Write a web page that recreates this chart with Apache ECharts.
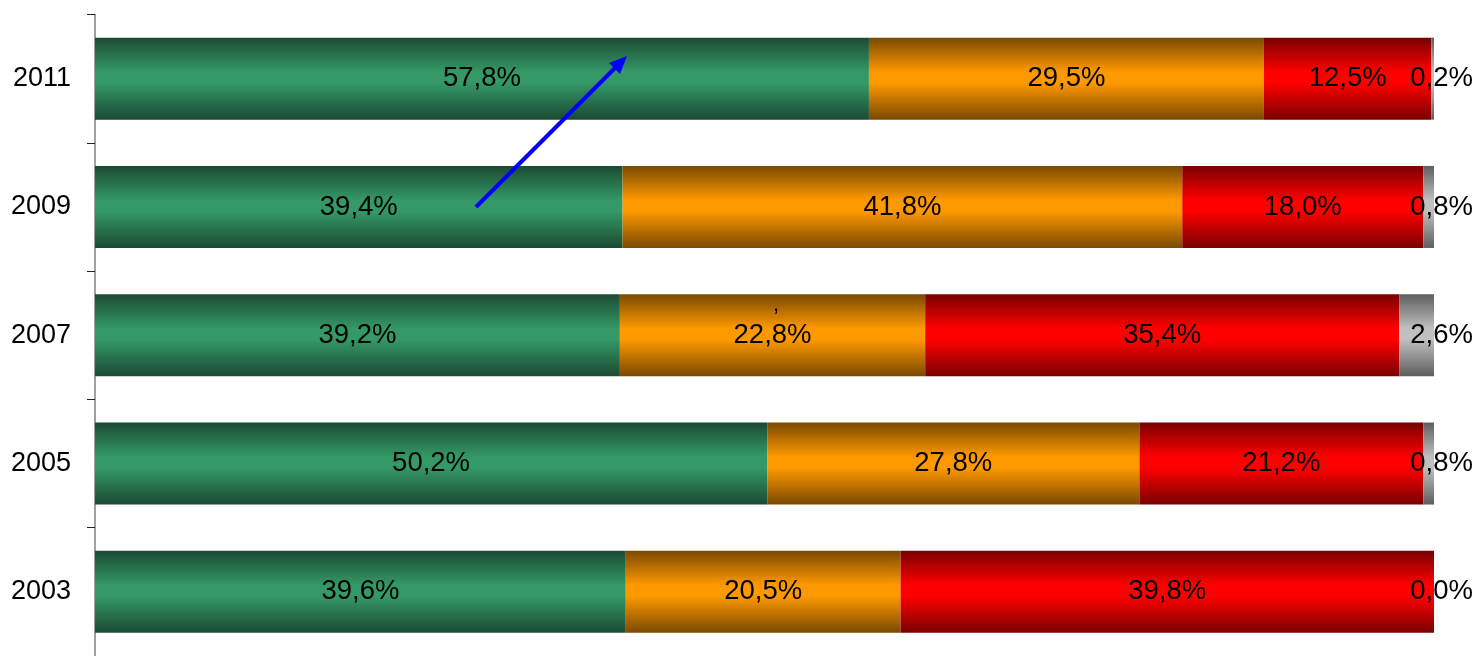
<!DOCTYPE html>
<html>
<head>
<meta charset="utf-8">
<script src="https://cdn.jsdelivr.net/npm/echarts@6/dist/echarts.min.js"></script>
<style>
html,body{margin:0;padding:0;background:#fff;}
#c{width:1478px;height:656px;}
</style>
</head>
<body>
<div id="c"></div>
<script>
var categories = ['2003', '2005', '2007', '2009', '2011'];
var seriesGreen  = [39.6, 50.2, 39.2, 39.4, 57.8];
var seriesOrange = [20.5, 27.8, 22.8, 41.8, 29.5];
var seriesRed    = [39.8, 21.2, 35.4, 18.0, 12.5];
var seriesGray   = [0.0, 0.8, 2.6, 0.8, 0.2];

var allSeries = [seriesGreen, seriesOrange, seriesRed, seriesGray];
var totals = categories.map(function (c, i) {
  return allSeries.reduce(function (s, arr) { return s + arr[i]; }, 0);
});

function grad(dark, bright) {
  return new echarts.graphic.LinearGradient(0, 0, 0, 1, [
    { offset: 0, color: dark },
    { offset: 0.42, color: bright },
    { offset: 0.55, color: bright },
    { offset: 1, color: dark }
  ]);
}
var fills = [
  grad('#1b4a33', '#349966'),
  grad('#7a4900', '#ff9900'),
  grad('#7a0000', '#ff0000'),
  grad('#5e5e5e', '#c0c0c0')
];

function fmt(v) { return v.toFixed(1).replace('.', ',') + '%'; }

var font = 'Liberation Sans, Arial, sans-serif';
var fs = 27.5;

var series = allSeries.map(function (arr, k) {
  var lbl = {
    show: true,
    position: 'inside',
    color: '#000',
    fontFamily: font,
    fontSize: fs,
    formatter: function (p) { return fmt(arr[p.dataIndex]); }
  };
  if (k === 3) {
    lbl.position = 'right';
    lbl.align = 'right';
    lbl.distance = 39;
  }
  return {
    type: 'bar',
    stack: 'total',
    barWidth: 82,
    itemStyle: { color: fills[k] },
    label: lbl,
    labelLayout: { hideOverlap: false },
    emphasis: { disabled: true },
    animation: false,
    data: arr.map(function (v, i) { return v / totals[i] * 100; })
  };
});

var chart = echarts.init(document.getElementById('c'), null, { renderer: 'canvas' });
chart.setOption({
  animation: false,
  grid: { left: 95, top: 14.5, width: 1339, height: 645, containLabel: false },
  xAxis: {
    type: 'value', min: 0, max: 100,
    show: false
  },
  yAxis: {
    type: 'category',
    data: categories,
    axisLine: { show: true, lineStyle: { color: '#808080', width: 1.5 } },
    axisTick: { show: true, inside: false, length: 8, alignWithLabel: false, lineStyle: { color: '#222', width: 1 } },
    axisLabel: { color: '#000', fontFamily: font, fontSize: 27, margin: 24 },
    splitLine: { show: false }
  },
  series: series,
  graphic: [
    { type: 'text', left: 773, top: 294, z: 100, style: { text: ',', fill: '#000', font: '22px ' + font } },
    { type: 'line', shape: { x1: 476, y1: 207, x2: 615, y2: 68 }, style: { stroke: '#0000ff', lineWidth: 4 }, z: 100 },
    { type: 'polygon', shape: { points: [[627, 56], [620, 74], [609, 63]] }, style: { fill: '#0000ff' }, z: 100 }
  ]
});
</script>
</body>
</html>
